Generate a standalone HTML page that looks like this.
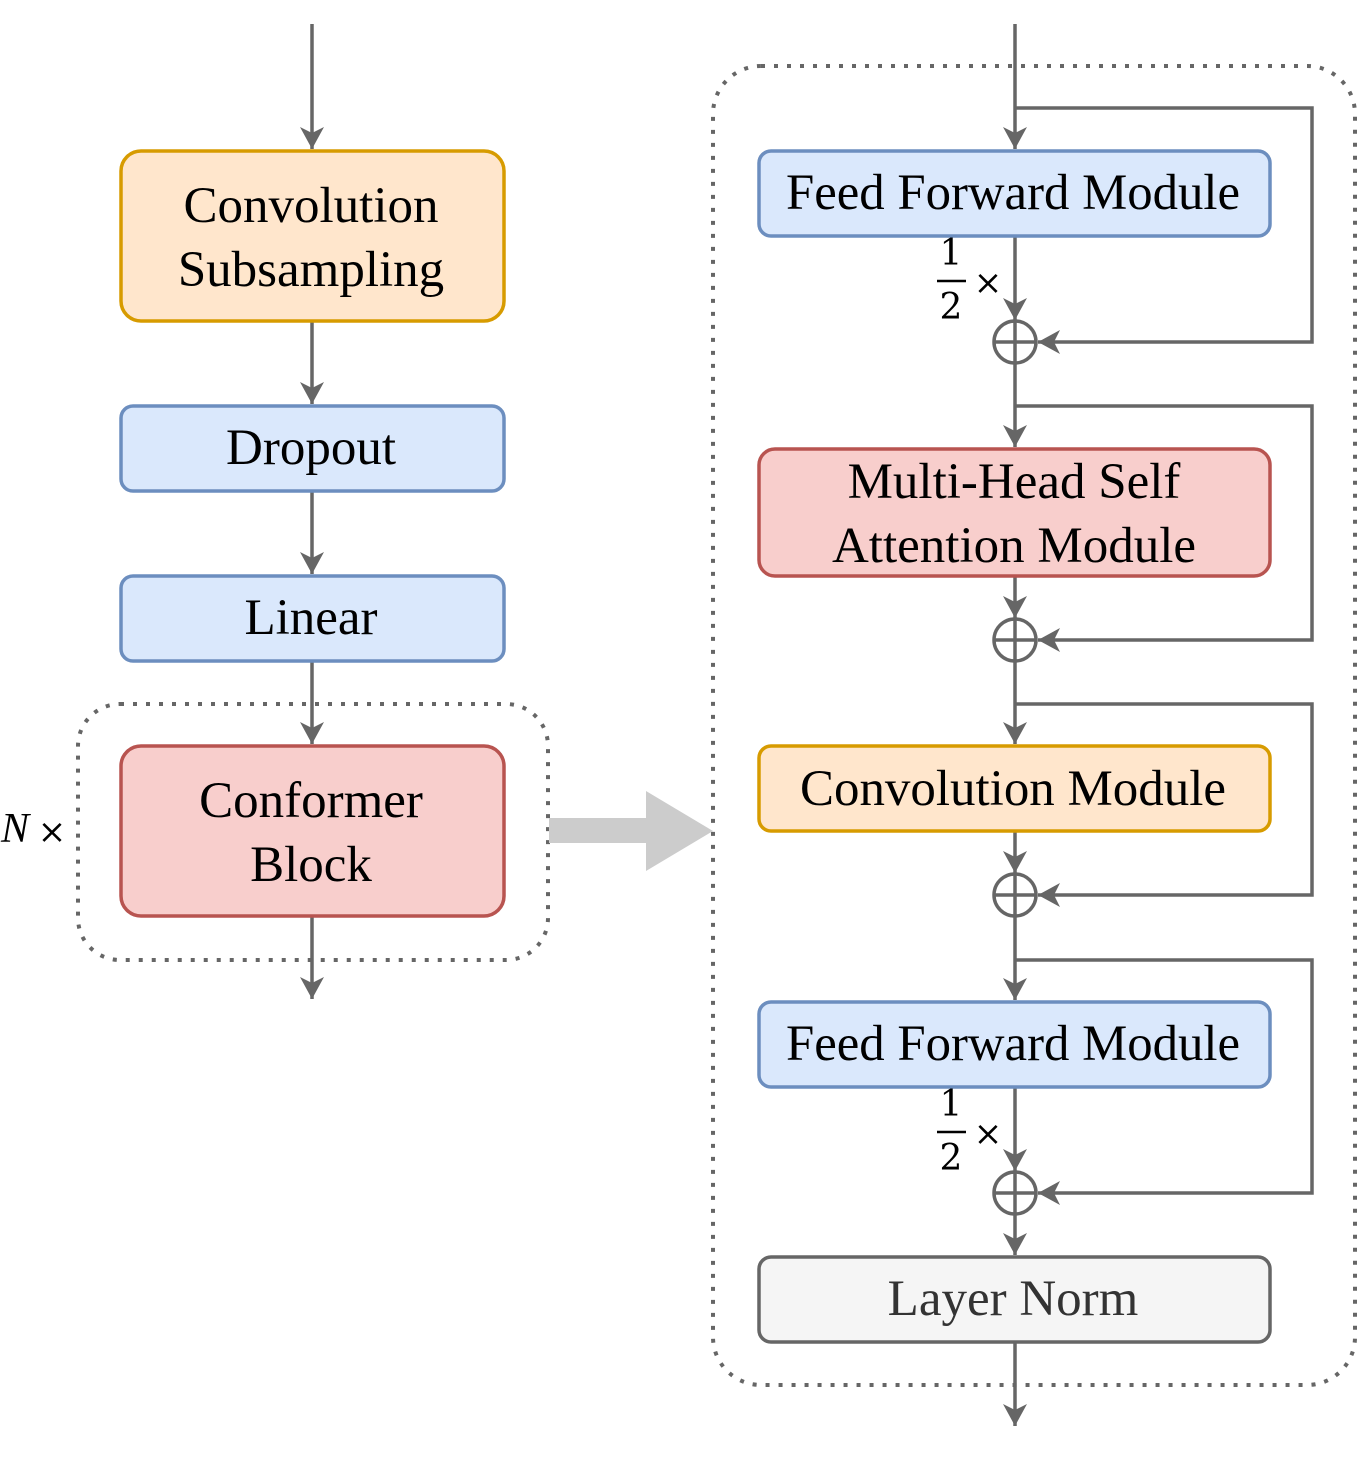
<!DOCTYPE html>
<html><head><style>html,body{margin:0;padding:0;background:#fff}svg{display:block}</style></head>
<body>
<svg width="1361" height="1462" viewBox="0 0 1361 1462" xmlns="http://www.w3.org/2000/svg" font-family="Liberation Serif, serif">
<defs>
<marker id="a" markerUnits="userSpaceOnUse" markerWidth="26" markerHeight="26" refX="22" refY="12" orient="auto">
<path d="M0,0 L22,12 L0,24 L6,12 Z" fill="#666"/>
</marker>
</defs>
<g fill="none" stroke="#666" stroke-width="3.5">
<line x1="312" y1="24" x2="312" y2="149" marker-end="url(#a)"/>
<line x1="312" y1="322" x2="312" y2="404" marker-end="url(#a)"/>
<line x1="312" y1="492" x2="312" y2="574" marker-end="url(#a)"/>
<line x1="312" y1="662" x2="312" y2="744" marker-end="url(#a)"/>
<line x1="312" y1="917" x2="312" y2="999" marker-end="url(#a)"/>
<rect x="78" y="704" width="470" height="256" rx="42" stroke-width="4" stroke-dasharray="4 9"/>
<rect x="713" y="66" width="642" height="1319" rx="48" stroke-width="4" stroke-dasharray="4 9"/>
<line x1="1015" y1="24" x2="1015" y2="149" marker-end="url(#a)"/>
<line x1="1015" y1="237" x2="1015" y2="320" marker-end="url(#a)"/>
<polyline points="1015,108 1312,108 1312,342 1038,342" marker-end="url(#a)"/>
<line x1="1015" y1="363" x2="1015" y2="447" marker-end="url(#a)"/>
<polyline points="1015,406 1312,406 1312,640 1038,640" marker-end="url(#a)"/>
<line x1="1015" y1="577" x2="1015" y2="618" marker-end="url(#a)"/>
<line x1="1015" y1="661" x2="1015" y2="744" marker-end="url(#a)"/>
<polyline points="1015,704 1312,704 1312,895 1038,895" marker-end="url(#a)"/>
<line x1="1015" y1="832" x2="1015" y2="873" marker-end="url(#a)"/>
<line x1="1015" y1="916" x2="1015" y2="1000" marker-end="url(#a)"/>
<polyline points="1015,960 1312,960 1312,1193 1038,1193" marker-end="url(#a)"/>
<line x1="1015" y1="1088" x2="1015" y2="1171" marker-end="url(#a)"/>
<line x1="1015" y1="1214" x2="1015" y2="1255" marker-end="url(#a)"/>
<line x1="1015" y1="1343" x2="1015" y2="1426" marker-end="url(#a)"/>
<g>
<circle cx="1015" cy="342" r="21"/><line x1="994" y1="342" x2="1036" y2="342"/><line x1="1015" y1="321" x2="1015" y2="363"/>
<circle cx="1015" cy="640" r="21"/><line x1="994" y1="640" x2="1036" y2="640"/><line x1="1015" y1="619" x2="1015" y2="661"/>
<circle cx="1015" cy="895" r="21"/><line x1="994" y1="895" x2="1036" y2="895"/><line x1="1015" y1="874" x2="1015" y2="916"/>
<circle cx="1015" cy="1193" r="21"/><line x1="994" y1="1193" x2="1036" y2="1193"/><line x1="1015" y1="1172" x2="1015" y2="1214"/>
</g>
</g>
<path d="M549,818 L646,818 L646,791 L713,831 L646,871 L646,843 L549,843 Z" fill="#ccc"/>
<g stroke-width="3.5">
<rect x="121" y="151" width="383" height="170" rx="20" fill="#ffe6cc" stroke="#d79b00"/>
<rect x="121" y="406" width="383" height="85" rx="12" fill="#dae8fc" stroke="#6c8ebf"/>
<rect x="121" y="576" width="383" height="85" rx="12" fill="#dae8fc" stroke="#6c8ebf"/>
<rect x="121" y="746" width="383" height="170" rx="20" fill="#f8cecc" stroke="#b85450"/>
<rect x="759" y="151" width="511" height="85" rx="12" fill="#dae8fc" stroke="#6c8ebf"/>
<rect x="759" y="449" width="511" height="127" rx="16" fill="#f8cecc" stroke="#b85450"/>
<rect x="759" y="746" width="511" height="85" rx="12" fill="#ffe6cc" stroke="#d79b00"/>
<rect x="759" y="1002" width="511" height="85" rx="12" fill="#dae8fc" stroke="#6c8ebf"/>
<rect x="759" y="1257" width="511" height="85" rx="12" fill="#f5f5f5" stroke="#666"/>
</g>
<g font-size="51" text-anchor="middle" fill="#000">
<text x="311" y="222">Convolution</text>
<text x="311" y="286">Subsampling</text>
<text x="311" y="464">Dropout</text>
<text x="311" y="634">Linear</text>
<text x="311" y="817">Conformer</text>
<text x="311" y="881">Block</text>
<text x="1013" y="209" textLength="454" lengthAdjust="spacingAndGlyphs">Feed Forward Module</text>
<text x="1014" y="498">Multi-Head Self</text>
<text x="1014" y="562">Attention Module</text>
<text x="1013" y="805" textLength="426" lengthAdjust="spacingAndGlyphs">Convolution Module</text>
<text x="1013" y="1060" textLength="454" lengthAdjust="spacingAndGlyphs">Feed Forward Module</text>
<text x="1013" y="1315" fill="#333">Layer Norm</text>
</g>
<g font-size="38" text-anchor="middle" fill="#000" font-family="DejaVu Serif, serif">
<text x="951" y="265" font-size="36">1</text><line x1="937" y1="281" x2="966" y2="281" stroke="#000" stroke-width="2.5"/><text x="951" y="319" font-size="36">2</text>
<text x="988" y="294" font-size="34">×</text>
<text x="951" y="1116" font-size="36">1</text><line x1="937" y1="1132" x2="966" y2="1132" stroke="#000" stroke-width="2.5"/><text x="951" y="1170" font-size="36">2</text>
<text x="988" y="1145" font-size="34">×</text>
</g>
<text x="1" y="842" font-size="42" font-style="italic" fill="#000">N</text>
<text x="52" y="843" font-size="34" fill="#000" text-anchor="middle" font-family="DejaVu Serif, serif">×</text>
</svg>
</body></html>
